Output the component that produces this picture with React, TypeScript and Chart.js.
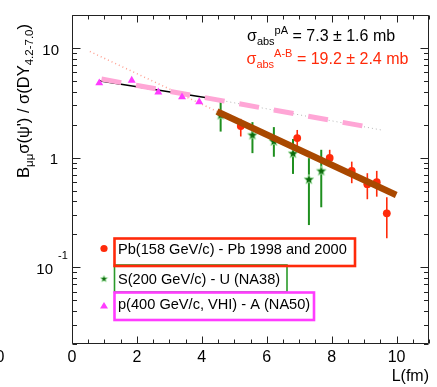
import React, { useEffect, useRef } from "react";
import { Chart, registerables } from "chart.js";

Chart.register(...registerables);

// ---- Data (L in fm, ratio values) ----
const pbL = [5.2, 6.94, 7.94, 8.62, 9.1, 9.39, 9.7];
const pbVal = [1.94, 1.51, 0.995, 0.757, 0.573, 0.597, 0.311];
const pbHi = [2.26, 1.79, 1.18, 0.92, 0.722, 0.758, 0.436];
const pbLo = [1.56, 1.26, 0.86, 0.585, 0.418, 0.441, 0.184];

const sL = [4.58, 5.56, 6.22, 6.81, 7.3, 7.68];
const sVal = [2.46, 1.62, 1.42, 1.1, 0.637, 0.762];
const sHi = [3.25, 2.11, 1.9, 1.48, 0.99, 1.18];
const sLo = [1.73, 1.1, 1.02, 0.711, 0.243, 0.353];

const pL = [0.84, 1.84, 2.66, 3.39, 3.92];
const pVal = [4.79, 5.06, 3.96, 3.57, 3.23];

// fit lines
const fitPAL = [0.83, 4.15];
const fitPAV = [5.03, 3.52];
const extPAL = [4.15, 9.57];
const extPAV = [3.52, 1.78];
const pinkL = [0.91, 9.07];
const pinkV = [5.21, 1.92];
const fitABL = [4.47, 9.99];
const fitABV = [2.64, 0.457];
const extABL = [0.55, 4.47];
const extABV = [9.3, 2.64];

// axis ticks
const xMajor = [0, 2, 4, 6, 8, 10];
const xMinorStep = 0.5;
const yMajor = [0.1, 1, 10];
const yDecades = [0.01, 0.1, 1, 10];

const legendLabels = [
  "Pb(158 GeV/c) - Pb 1998 and 2000",
  "S(200 GeV/c) - U (NA38)",
  "p(400 GeV/c, VHI) - A (NA50)",
];

const FONT = '"Liberation Sans", Arial, Helvetica, sans-serif';
const RED = "#ff2a0a";
const GREEN_BAR = "#1f8f1f";
const GREEN_STAR = "#0b6b0b";
const MAGENTA = "#ff3cff";
const PINK = "#ffa6d6";
const BROWN = "#a94800";
const SALMON = "#ff9f90";

const pts = (xs: number[], ys: number[]) => xs.map((x, i) => ({ x, y: ys[i] }));

function makeStar(size: number, fill: string, stroke: string) {
  const c = document.createElement("canvas");
  c.width = size;
  c.height = size;
  const g = c.getContext("2d")!;
  const cx = size / 2,
    cy = size / 2 + 0.5,
    R = size / 2 - 0.7,
    r = R * 0.45;
  g.beginPath();
  for (let i = 0; i < 10; i++) {
    const ang = -Math.PI / 2 + (i * Math.PI) / 5;
    const rad = i % 2 === 0 ? R : r;
    g.lineTo(cx + rad * Math.cos(ang), cy + rad * Math.sin(ang));
  }
  g.closePath();
  g.fillStyle = fill;
  g.fill();
  g.lineWidth = 0.8;
  g.strokeStyle = stroke;
  g.stroke();
  return c;
}

let legendStarCanvas: HTMLCanvasElement | null = null;

type Part = { t: string; size: number; dy: number };
function drawRich(ctx: CanvasRenderingContext2D, x: number, y: number, parts: Part[]) {
  let cx = x;
  for (const p of parts) {
    ctx.font = `${p.size}px ${FONT}`;
    ctx.fillText(p.t, cx, y + p.dy);
    cx += ctx.measureText(p.t).width;
  }
}

const plotPlugin = {
  id: "plotDecor",
  beforeDatasetsDraw(chart: any) {
    const { ctx, chartArea: a, scales } = chart;
    const xs = scales.x, ys = scales.y;
    ctx.save();
    ctx.beginPath();
    ctx.rect(a.left, a.top, a.right - a.left, a.bottom - a.top);
    ctx.clip();
    ctx.lineCap = "butt";
    ctx.strokeStyle = GREEN_BAR;
    ctx.lineWidth = 2;
    sL.forEach((l, i) => {
      const px = xs.getPixelForValue(l);
      ctx.beginPath();
      ctx.moveTo(px, ys.getPixelForValue(sHi[i]));
      ctx.lineTo(px, ys.getPixelForValue(sLo[i]));
      ctx.stroke();
    });
    ctx.strokeStyle = RED;
    ctx.lineWidth = 1.6;
    pbL.forEach((l, i) => {
      const px = xs.getPixelForValue(l);
      ctx.beginPath();
      ctx.moveTo(px, ys.getPixelForValue(pbHi[i]));
      ctx.lineTo(px, ys.getPixelForValue(pbLo[i]));
      ctx.stroke();
    });
    ctx.restore();
  },
  afterDraw(chart: any) {
    const { ctx, chartArea: a, scales } = chart;
    const xs = scales.x, ys = scales.y;
    ctx.save();
    ctx.strokeStyle = "#222";
    ctx.lineWidth = 1;
    const L = Math.round(a.left) + 0.5,
      R = Math.round(a.right) - 0.5,
      T = Math.round(a.top) + 0.5,
      B = Math.round(a.bottom) - 0.5;
    ctx.beginPath();
    ctx.rect(L, T, R - L, B - T);
    ctx.stroke();
    ctx.beginPath();
    for (let v = xs.min; v <= xs.max + 1e-9; v += xMinorStep) {
      const major = xMajor.some((m) => Math.abs(m - v) < 1e-9);
      const len = major ? 7 : 4;
      const px = Math.round(xs.getPixelForValue(v)) + 0.5;
      ctx.moveTo(px, B);
      ctx.lineTo(px, B - len);
      ctx.moveTo(px, T);
      ctx.lineTo(px, T + len);
    }
    yDecades.forEach((d) => {
      for (let k = 1; k <= 9; k++) {
        const v = d * k;
        if (v < ys.min - 1e-12 || v > ys.max + 1e-9) continue;
        const major = k === 1;
        const len = major ? 8 : 4.5;
        const py = Math.round(ys.getPixelForValue(v)) + 0.5;
        ctx.moveTo(L, py);
        ctx.lineTo(L + len, py);
        ctx.moveTo(R, py);
        ctx.lineTo(R - len, py);
      }
    });
    ctx.stroke();

    ctx.fillStyle = "#000";
    ctx.textBaseline = "alphabetic";
    ctx.font = `16px ${FONT}`;
    ctx.textAlign = "center";
    xMajor.forEach((v) => {
      ctx.fillText(String(v), xs.getPixelForValue(v), 361.5);
    });
    ctx.fillText("0", 0, 361.5);
    ctx.textAlign = "right";
    ctx.fillText("L(fm)", 429, 381);
    ctx.font = `15px ${FONT}`;
    ctx.fillText("10", 59, ys.getPixelForValue(yMajor[2]) + 6.5);
    ctx.fillText("1", 58, ys.getPixelForValue(yMajor[1]) + 6.5);
    ctx.fillText("10", 53, ys.getPixelForValue(yMajor[0]) + 6.7);
    ctx.textAlign = "left";
    ctx.font = `11px ${FONT}`;
    ctx.fillText("-1", 58, ys.getPixelForValue(yMajor[0]) - 8);

    ctx.save();
    ctx.translate(28.5, 178);
    ctx.rotate(-Math.PI / 2);
    ctx.textAlign = "left";
    drawRich(ctx, 0, 0, [
      { t: "B", size: 16.5, dy: 0 },
      { t: "μμ", size: 11.5, dy: 4.5 },
      { t: "σ(ψ') / σ(DY", size: 16.5, dy: 0 },
      { t: "4.2-7.0", size: 11.5, dy: 4.5 },
      { t: ")", size: 16.5, dy: 0 },
    ]);
    ctx.restore();

    ctx.textAlign = "left";
    ctx.fillStyle = "#000";
    drawRich(ctx, 247, 41, [
      { t: "σ", size: 16, dy: 0 },
      { t: "abs", size: 11, dy: 3.5 },
      { t: "pA", size: 11, dy: -7 },
      { t: " = 7.3 ± 1.6 mb", size: 16, dy: 0 },
    ]);
    ctx.fillStyle = RED;
    drawRich(ctx, 246.5, 64, [
      { t: "σ", size: 16, dy: 0 },
      { t: "abs", size: 11, dy: 3.5 },
      { t: "A-B", size: 11, dy: -7 },
      { t: " = 19.2 ± 2.4 mb", size: 16, dy: 0 },
    ]);

    ctx.strokeStyle = "#2a9a2a";
    ctx.lineWidth = 1.6;
    ctx.strokeRect(114.5, 265, 172.5, 27);
    ctx.strokeStyle = RED;
    ctx.lineWidth = 2.6;
    ctx.strokeRect(114.5, 238.5, 240.5, 27.5);
    ctx.strokeStyle = MAGENTA;
    ctx.lineWidth = 2.6;
    ctx.strokeRect(114.5, 292.5, 199.5, 27.5);

    ctx.fillStyle = RED;
    ctx.beginPath();
    ctx.arc(104, 248.5, 3.6, 0, Math.PI * 2);
    ctx.fill();
    if (!legendStarCanvas) legendStarCanvas = makeStar(9, GREEN_STAR, "#b8f0b8");
    ctx.drawImage(legendStarCanvas, 104 - 4.5, 278.5 - 4.5);
    ctx.fillStyle = MAGENTA;
    ctx.beginPath();
    ctx.moveTo(104, 302);
    ctx.lineTo(108, 308.5);
    ctx.lineTo(100, 308.5);
    ctx.closePath();
    ctx.fill();

    ctx.fillStyle = "#000";
    ctx.font = `14.6px ${FONT}`;
    ctx.fillText(legendLabels[0], 118, 254);
    ctx.fillText(legendLabels[1], 118, 283.5);
    ctx.fillText(legendLabels[2], 118, 309);
    ctx.restore();
  },
};

export default function App() {
  const ref = useRef<HTMLCanvasElement | null>(null);
  useEffect(() => {
    const prevMargin = document.body.style.margin;
    document.body.style.margin = "0";
    const canvas = ref.current!;
    const star = makeStar(12, GREEN_STAR, "#b8f0b8");
    const lineDs = (xsArr: number[], ysArr: number[], color: string, width: number, dash: number[], order: number) => ({
      data: pts(xsArr, ysArr),
      showLine: true,
      borderColor: color,
      borderWidth: width,
      borderDash: dash,
      borderCapStyle: "butt",
      pointRadius: 0,
      fill: false,
      tension: 0,
      order,
    });
    const chart: any = new Chart(canvas, {
      type: "scatter",
      data: {
        datasets: [
          {
            data: pts(pL, pVal),
            pointStyle: "triangle",
            pointRadius: 4.6,
            backgroundColor: MAGENTA,
            borderColor: MAGENTA,
            borderWidth: 0,
            order: 1,
          },
          lineDs(fitABL, fitABV, BROWN, 6.5, [], 2),
          {
            data: pts(pbL, pbVal),
            pointStyle: "circle",
            pointRadius: 3.9,
            backgroundColor: RED,
            borderColor: RED,
            borderWidth: 0,
            order: 3,
          },
          {
            data: pts(sL, sVal),
            pointStyle: star,
            pointRadius: 6,
            order: 4,
          },
          lineDs(pinkL, pinkV, PINK, 5, [20, 15], 5),
          lineDs(fitPAL, fitPAV, "#000", 1.5, [], 6),
          lineDs(extPAL, extPAV, "#b4b4b4", 1, [1, 3], 7),
          lineDs(extABL, extABV, SALMON, 1.5, [1, 3], 8),
        ] as any,
      },
      options: {
        responsive: false,
        animation: false,
        events: [],
        layout: { padding: { left: 72, right: 8, top: 15, bottom: 43 } },
        plugins: { legend: { display: false }, tooltip: { enabled: false } },
        scales: {
          x: { type: "linear", min: 0, max: 11, display: false },
          y: { type: "logarithmic", min: 0.02, max: 20, display: false },
        },
      },
      plugins: [plotPlugin as any],
    } as any);
    return () => {
      chart.destroy();
      document.body.style.margin = prevMargin;
    };
  }, []);
  return (
    <div style={{ position: "absolute", left: 0, top: 0, width: 437, height: 387, background: "#fff" }}>
      <canvas ref={ref} width={437} height={387} style={{ display: "block" }} />
    </div>
  );
}
